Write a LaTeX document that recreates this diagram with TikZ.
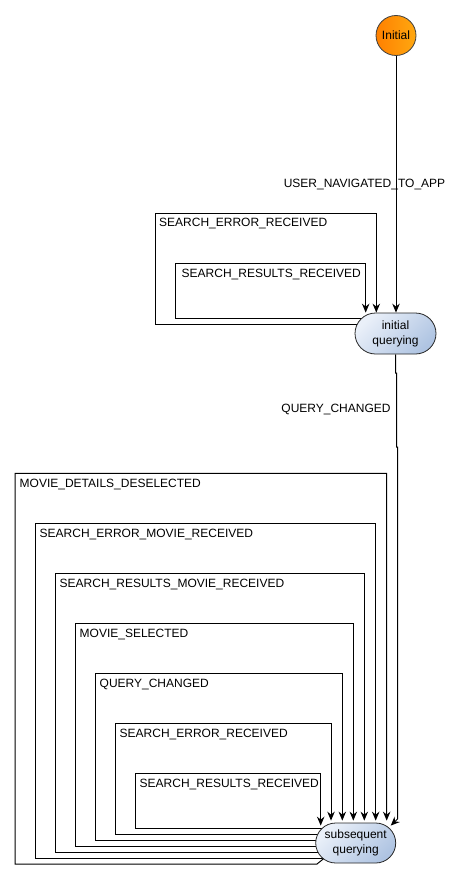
\documentclass[tikz,border=0pt]{standalone}
\usepackage{fontspec}
\setmainfont{Liberation Sans}
\usetikzlibrary{arrows.meta,shapes.misc,backgrounds,calc}
\definecolor{qlight}{HTML}{EAF0F9}
\definecolor{qdark}{HTML}{AFC4E2}
\definecolor{olight}{HTML}{FFA810}
\definecolor{odark}{HTML}{FF8000}
\begin{document}
\begin{tikzpicture}[x=1pt,y=-1pt,
  every node/.style={font=\fontsize{12}{15}\selectfont},
  qstate/.style={rounded rectangle, draw=black!85, line width=0.8pt, top color=qlight, bottom color=qdark, shading angle=45, minimum width=81pt, minimum height=41pt, inner sep=0pt, align=center},
  initst/.style={circle, draw=black!75, line width=0.8pt, left color=odark, right color=olight, minimum size=40pt, inner sep=0pt},
  conn/.style={draw=black, line width=1pt, -{Stealth[length=9pt,width=7.5pt,inset=3pt]}},
  lbl/.style={anchor=west, inner sep=0pt},
  elbl/.style={inner sep=0pt}]
\useasboundingbox (0,0) rectangle (464,880);

% states
\node[initst] (init) at (396,35.5) {Initial};
\node[qstate] (iq) at (395.5,333.5) {initial\\querying};
\node[qstate, minimum width=80pt, minimum height=40pt] (sq) at (355.7,843) {subsequent\\querying};

% edge labels
\node[elbl] (lnav) at (364.5,185) {USER\_NAVIGATED\_TO\_APP};
\node[elbl] (lqc) at (336,409) {QUERY\_CHANGED};

% loop labels (initial querying)
\node[lbl] (la2) at (159,224) {SEARCH\_ERROR\_RECEIVED};
\node[lbl] (la1) at (181.5,275) {SEARCH\_RESULTS\_RECEIVED};

% loop labels (subsequent querying)
\node[lbl] (lb1) at (139.5,784.5) {SEARCH\_RESULTS\_RECEIVED};
\node[lbl] (lb2) at (119.5,734.5) {SEARCH\_ERROR\_RECEIVED};
\node[lbl] (lb3) at (99.5,684.5) {QUERY\_CHANGED};
\node[lbl] (lb4) at (79.5,634.5) {MOVIE\_SELECTED};
\node[lbl] (lb5) at (59.5,584.5) {SEARCH\_RESULTS\_MOVIE\_RECEIVED};
\node[lbl] (lb6) at (39.5,534.3) {SEARCH\_ERROR\_MOVIE\_RECEIVED};
\node[lbl] (lb7) at (19.5,484.5) {MOVIE\_DETAILS\_DESELECTED};

\begin{pgfonlayer}{background}
  % Initial -> initial querying
  \draw[conn] (init.south) -- (init.south |- iq.north);
  % initial querying -> subsequent querying
  \draw[conn] (iq.south) -- (395.5,373) -- (396.5,373) -- (396.5,447) -- (397.5,447) -- (397.5,819) -- ($(sq.north)+(35,3)$);

  % self loops on initial querying
  \draw[conn] ($(iq.center)+(0,-15.2)$) -- (175.7,318.3) -- (175.7,263) -- (365.7,263) -- (365.7,0 |- iq.north);
  \draw[conn] ($(iq.center)+(0,-9.2)$) -- (155.7,324.3) -- (155.7,213.3) -- (376.3,213.3) -- (376.3,0 |- iq.north);

  % self loops on subsequent querying
  \draw[conn] ($(sq.center)+(0,-14.7)$) -- (135,828.3) -- (135,773.3) -- (320.7,773.3) -- ($(320.7,0 |- sq.north)+(0,3)$);
  \draw[conn] ($(sq.center)+(0,-9)$) -- (115,834) -- (115,723.3) -- (331,723.3) -- ($(331,0 |- sq.north)+(0,-2)$);
  \draw[conn] ($(sq.center)+(0,-3)$) -- (95.7,840) -- (95.7,673.3) -- (342.3,673.3) -- ($(342.3,0 |- sq.north)+(0,-2)$);
  \draw[conn] ($(sq.center)+(0,3)$) -- (75.7,846) -- (75.7,623.3) -- (353.3,623.3) -- ($(353.3,0 |- sq.north)+(0,-2)$);
  \draw[conn] ($(sq.center)+(0,9)$) -- (55,852) -- (55,573.3) -- (364.3,573.3) -- ($(364.3,0 |- sq.north)+(0,-2)$);
  \draw[conn] ($(sq.center)+(0,15)$) -- (35,858) -- (35,523) -- (375.7,523) -- ($(375.7,0 |- sq.north)+(0,-2)$);
  \draw[conn] ($(sq.center)+(-30,14)$) -- (317,864) -- (15,864) -- (15,473.3) -- (386.7,473.3) -- ($(386.7,0 |- sq.north)+(0,-2)$);
\end{pgfonlayer}
\end{tikzpicture}
\end{document}
